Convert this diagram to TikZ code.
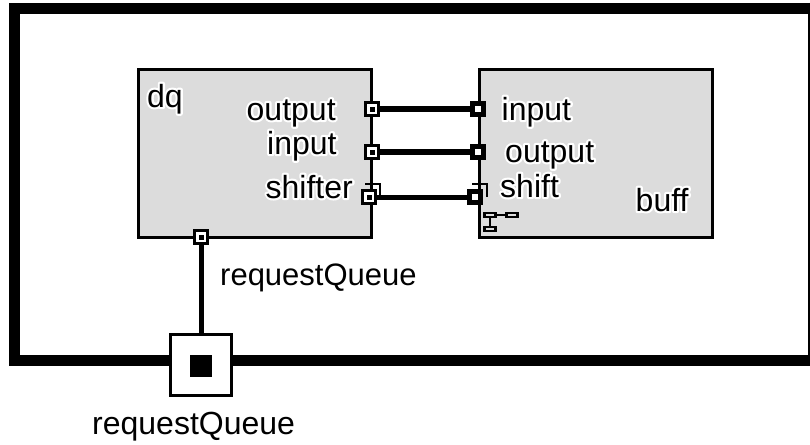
\documentclass[tikz,border=0pt]{standalone}
\usepackage{fontspec}
\setmainfont{Liberation Sans}
\usetikzlibrary{positioning, calc}
\definecolor{capsulegrey}{HTML}{DCDCDC}
% white outline under the letters
\newcommand{\halo}[1]{\leavevmode\rlap{\special{pdf:code q 1 j 2 Tr 4.4 w 1 1 1 RG 1 1 1 rg}#1\special{pdf:code Q}}#1}
\tikzset{
    capsule/.style={draw, line width=3pt, fill=capsulegrey, inner sep=0pt, minimum width=233pt, minimum height=168pt},
    portin/.style={draw, line width=3pt, fill=white, inner sep=0pt, minimum size=13pt,
        path picture={\fill[black] ($(path picture bounding box.center)+(-2.5,-2.5)$) rectangle ++(5,5);}},
    portout/.style={draw, line width=3pt, fill=black, inner sep=0pt, minimum size=13pt,
        path picture={\fill[white] ($(path picture bounding box.center)+(-3,-3)$) rectangle ++(6,6);}},
    relay/.style={draw, line width=3pt, fill=white, inner sep=0pt, minimum size=61pt},
    relaycore/.style={fill=black, inner sep=0pt, minimum size=22pt},
    chip/.style={draw, line width=2.2pt, fill=capsulegrey, inner sep=0pt, minimum width=11pt, minimum height=4pt},
    wire/.style={line width=5.5pt},
    portlabel/.style={inner sep=0pt, anchor=base west, font=\fontsize{32}{32}\selectfont},
}
\begin{document}
\begin{tikzpicture}[x=1pt, y=-1pt]
    \useasboundingbox (0,0) rectangle (810,444);
    % frame
    \draw[line width=11pt] (810,8.5) -- (14.5,8.5) -- (14.5,360.5) -- (810,360.5);
    \draw[line width=1.5pt] (809,3) -- (809,366);
    % capsules
    \node[capsule] (dq) at (254.5,153) {};
    \node[capsule] (buff) at (595.5,153) {};
    % hooks behind the shift ports
    \coordinate (hookdqa) at (365,184);
    \coordinate (hookdqb) at (380,184);
    \coordinate (hookdqc) at (380,197);
    \coordinate (hookbuffa) at (472,184);
    \coordinate (hookbuffb) at (487,184);
    \coordinate (hookbuffc) at (487,197);
    \draw[line width=2.5pt] (hookdqa) -- (hookdqb) -- (hookdqc);
    \draw[line width=2.5pt] (hookbuffa) -- (hookbuffb) -- (hookbuffc);
    % ports
    \node[portin] (dqoutput) at (372,109) {};
    \node[portin] (dqinput) at (372,152) {};
    \node[portin] (dqshifter) at (369,197) {};
    \node[portin] (dqqueue) at (201,237) {};
    \node[portout] (buffinput) at (478,109) {};
    \node[portout] (buffoutput) at (478,152) {};
    \node[portout] (buffshift) at (475,197) {};
    \node[relay] (queue) at (201,365) {};
    \node[relaycore] (queuecore) at (201,366) {};
    % wires
    \draw[wire] (dqoutput) -- (buffinput);
    \draw[wire] (dqinput) -- (buffoutput);
    \draw[wire, line width=5pt] (dqshifter) -- (buffshift);
    \draw[wire, line width=5pt] (dqqueue) -- (queue);
    % small icon
    \node[chip] (chipa) at (490,215) {};
    \node[chip] (chipb) at (512,215) {};
    \node[chip] (chipc) at (490,229) {};
    \draw[line width=2.5pt] (chipa) -- (chipb);
    \draw[line width=2.5pt] (chipa) -- (chipc);
    % labels
    \node[portlabel] (dqname) at (147,107) {\halo{dq}};
    \node[portlabel] (outputname) at (246.5,120) {\halo{output}};
    \node[portlabel] (inputname) at (267,154) {\halo{input}};
    \node[portlabel] (shiftername) at (265.5,198) {\halo{shifter}};
    \node[portlabel] (binputname) at (501.5,120) {\halo{input}};
    \node[portlabel] (boutputname) at (505,162) {\halo{output}};
    \node[portlabel] (bshiftname) at (500,197) {\halo{shift}};
    \node[portlabel] (buffname) at (635.5,211) {\halo{buff}};
    \node[portlabel, font=\fontsize{31}{31}\selectfont] (queueinner) at (220,285) {requestQueue};
    \node[portlabel] (queueouter) at (92,434) {requestQueue};
\end{tikzpicture}
\end{document}
